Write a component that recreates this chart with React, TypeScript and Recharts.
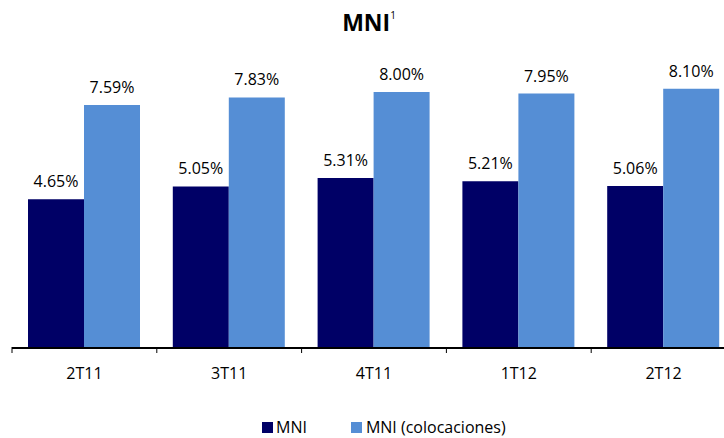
import React from 'react';
import { BarChart, Bar, XAxis, YAxis, LabelList } from 'recharts';

const categories = ['2T11', '3T11', '4T11', '1T12', '2T12'];
const mniValues = [4.65, 5.05, 5.31, 5.21, 5.06];
const mniColocValues = [7.59, 7.83, 8.0, 7.95, 8.1];
const seriesNames = ['MNI', 'MNI (colocaciones)'];

const data = categories.map((c, i) => ({ cat: c, mni: mniValues[i], coloc: mniColocValues[i] }));

const DARK = '#000066';
const LIGHT = '#558ED5';
const FONT = '"Open Sans", "Noto Sans", sans-serif';

const fmt = (v: any) => `${Number(v).toFixed(2)}%`;

const EdgeTick = (props: any) => {
  const { x, y, payload } = props;
  const half = payload && typeof payload.offset === 'number' && payload.offset > 0 ? payload.offset : 72.4;
  const left = x - half;
  return (
    <g>
      <line x1={left} x2={left} y1={y - 9} y2={y - 3} stroke="#000" strokeWidth={1} />
      <text x={x} y={y} dy={23} textAnchor="middle" fill="#000" fontSize={16} fontFamily={FONT}>
        {payload.value}
      </text>
    </g>
  );
};

export default function App() {
  return (
    <div style={{ position: 'relative', width: 724, height: 438, overflow: 'hidden', fontFamily: FONT, background: '#fff' }}>
      <style>{`body{margin:0}`}</style>
      <div style={{ position: 'absolute', top: 6, left: 0, width: 738, textAlign: 'center', fontSize: 23, fontWeight: 700, color: '#000' }}>
        MNI<sup style={{ fontSize: 10, fontWeight: 400, verticalAlign: 'top', position: 'relative', top: 2 }}>1</sup>
      </div>
      <BarChart
        width={740}
        height={438}
        data={data}
        margin={{ top: 28, right: 4, left: 12, bottom: 50 }}
        barCategoryGap={16}
        barGap={0}
      >
        <YAxis hide domain={[0, 10]} />
        <XAxis
          dataKey="cat"
          height={40}
          axisLine={{ stroke: '#000', strokeWidth: 2 }}
          tickLine={false}
          tickSize={6}
          interval={0}
          tick={<EdgeTick />}
          scale="band"
        />
        <Bar dataKey="mni" fill={DARK} isAnimationActive={false}>
          <LabelList dataKey="mni" position="top" offset={12} formatter={fmt} style={{ fill: '#000', fontSize: 16, fontFamily: FONT }} />
        </Bar>
        <Bar dataKey="coloc" fill={LIGHT} isAnimationActive={false}>
          <LabelList dataKey="coloc" position="top" offset={12} formatter={fmt} style={{ fill: '#000', fontSize: 16, fontFamily: FONT }} />
        </Bar>
      </BarChart>
      <div style={{ position: 'absolute', top: 419, left: 262, display: 'flex', alignItems: 'center', fontSize: 16, lineHeight: '17px', color: '#000', whiteSpace: 'nowrap' }}>
        <span style={{ display: 'inline-block', width: 11, height: 11, background: DARK, marginRight: 3 }} />
        <span>{seriesNames[0]}</span>
        <span style={{ display: 'inline-block', width: 11, height: 11, background: LIGHT, marginLeft: 44, marginRight: 4 }} />
        <span>{seriesNames[1]}</span>
      </div>
    </div>
  );
}
